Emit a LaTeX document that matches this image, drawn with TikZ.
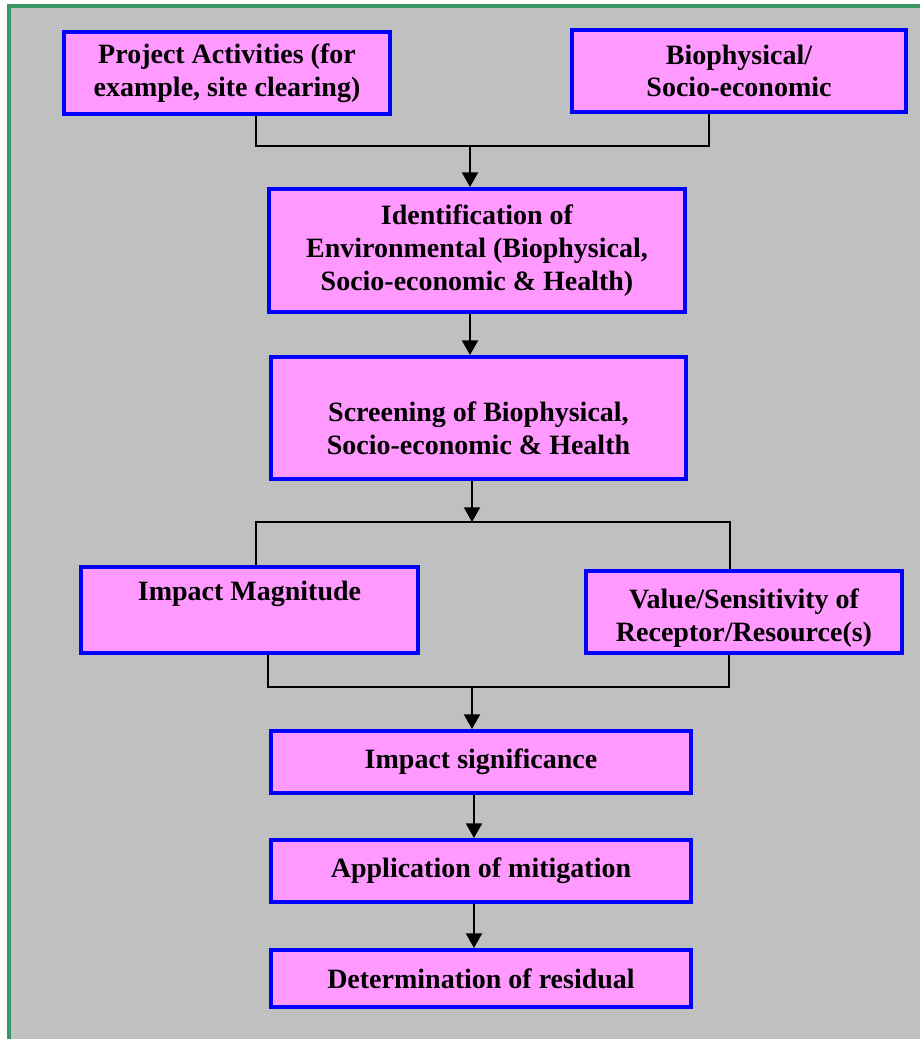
\documentclass[tikz,border=0pt]{standalone}
\usepackage{fontspec}
\setmainfont{Liberation Serif}
\usetikzlibrary{arrows.meta}
\definecolor{bggray}{RGB}{192,192,192}
\definecolor{frgreen}{RGB}{56,152,104}
\definecolor{boxpink}{RGB}{255,153,255}
\definecolor{boxblue}{RGB}{0,0,255}
\tikzset{
  box/.style={draw=boxblue, fill=boxpink, line width=3pt, inner sep=0pt,
    align=center, font=\fontsize{21}{24.5}\selectfont\bfseries, text=black},
  txt/.style={align=center, font=\fontsize{21}{24.5}\selectfont\bfseries, text=black, inner sep=0pt},
  conn/.style={draw=black, line width=1.5pt},
  arr/.style={draw=black, line width=1.5pt, -{Triangle[length=11pt,width=12pt]}}
}
\begin{document}
\begin{tikzpicture}[x=0.75pt,y=-0.75pt]
\useasboundingbox (0,0) rectangle (920,1039);
\fill[white] (0,0) rectangle (920,1039);
\fill[bggray] (9,6) rectangle (925,1045);
\draw[frgreen, line width=3pt] (9,1045) -- (9,6) -- (925,6);

% boxes
\node[box, minimum width=244.5pt, minimum height=61.5pt] (b1) at (227,73) {Project Activities (for\\example, site clearing)};
\node[box, minimum width=250.5pt, minimum height=61.5pt] (b2) at (739,71) {Biophysical/\\Socio-economic};
\node[box, minimum width=312pt, minimum height=92.25pt] (b3) at (477,250.5) {Identification of\\Environmental (Biophysical,\\Socio-economic \& Health)};
\node[box, minimum width=311.25pt, minimum height=91.5pt] (b4) at (478.5,418) {};
\node[txt] (t4) at (478.5,428.5) {Screening of Biophysical,\\Socio-economic \& Health};
\node[box, minimum width=252.75pt, minimum height=64.5pt] (b5) at (249.5,610) {};
\node[txt] (t5) at (249.5,594) {Impact Magnitude};
\node[box, minimum width=237pt, minimum height=61.5pt] (b6) at (744,612) {};
\node[txt] (t6) at (744,618) {Value/Sensitivity of\\Receptor/Resource(s)};
\node[box, minimum width=315pt, minimum height=46.5pt] (b7) at (481,762) {Impact significance};
\node[box, minimum width=315pt, minimum height=46.5pt] (b8) at (481,871) {Application of mitigation};
\node[box, minimum width=315pt, minimum height=42.75pt] (b9) at (481,978.5) {Determination of residual};

% junction coordinates
\coordinate (c1) at (256,146);
\coordinate (c2) at (709,146);
\coordinate (m1) at (470,146);
\coordinate (a34) at (470,300);
\coordinate (m2) at (472,522);
\coordinate (c3) at (256,522);
\coordinate (c4) at (730,522);
\coordinate (c5) at (268,687);
\coordinate (c6) at (729,687);
\coordinate (m3) at (472,687);
\coordinate (a7) at (474,800);

% connectors
\draw[conn] (b1.south -| c1) -- (c1) -- (c2) -- (b2.south -| c2);
\draw[arr] (m1) -- (b3.north -| m1);
\draw[arr] (b3.south -| a34) -- (b4.north -| a34);
\draw[arr] (b4.south -| m2) -- (m2);
\draw[conn] (b5.north -| c3) -- (c3) -- (c4) -- (b6.north -| c4);
\draw[conn] (b5.south -| c5) -- (c5) -- (c6) -- (b6.south -| c6);
\draw[arr] (m3) -- (b7.north -| m3);
\draw[arr] (b7.south -| a7) -- (b8.north -| a7);
\draw[arr] (b8.south -| a7) -- (b9.north -| a7);
\end{tikzpicture}
\end{document}
